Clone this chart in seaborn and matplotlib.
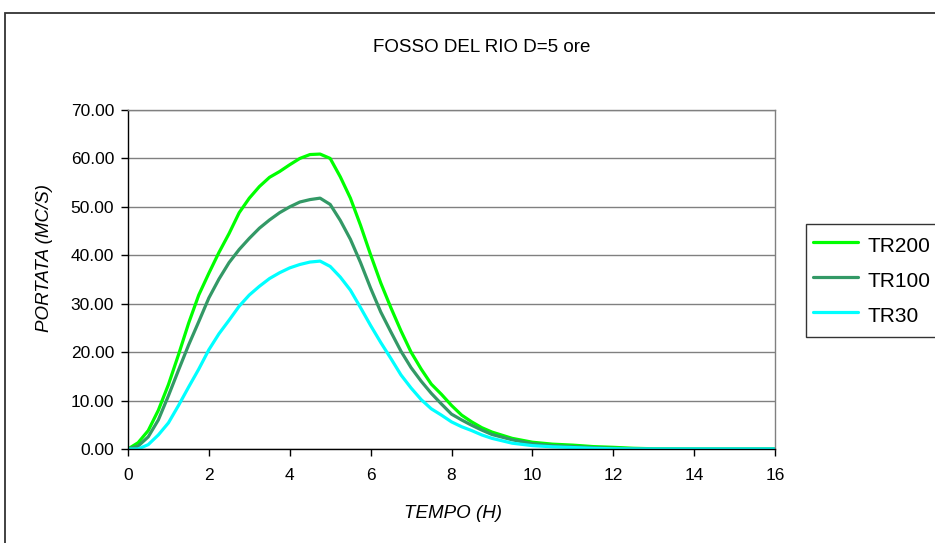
import numpy as np
import pandas as pd
import matplotlib
matplotlib.use('Agg')
import matplotlib.pyplot as plt
import seaborn as sns
from matplotlib.patches import Rectangle

# Dati (tempo in ore, portata in mc/s)
tempo = [0, 0.25, 0.5, 0.75, 1.0, 1.25, 1.5, 1.75, 2.0, 2.25, 2.5, 2.75,
         3.0, 3.25, 3.5, 3.75, 4.0, 4.25, 4.5, 4.75, 5.0, 5.25, 5.5, 5.75,
         6.0, 6.25, 6.5, 6.75, 7.0, 7.25, 7.5, 7.75, 8.0, 8.25, 8.5, 8.75,
         9.0, 9.5, 10, 10.5, 11, 11.5, 12, 12.5, 13, 14, 15, 16]

tr200 = [0, 1.3, 3.8, 8.0, 13.3, 19.5, 26.0, 31.8, 36.3, 40.6, 44.5, 48.8,
         51.8, 54.2, 56.1, 57.3, 58.7, 60.0, 60.8, 60.9, 60.0, 56.2, 51.8, 46.2,
         40.1, 34.3, 29.2, 24.4, 20.0, 16.5, 13.4, 11.3, 9.0, 7.0, 5.6, 4.4,
         3.5, 2.2, 1.4, 1.0, 0.8, 0.5, 0.35, 0.15, 0.05, 0, 0, 0]

tr100 = [0, 0.6, 2.5, 6.0, 11.0, 16.3, 21.5, 26.3, 31.2, 35.1, 38.5, 41.2,
         43.5, 45.6, 47.3, 48.8, 50.0, 51.0, 51.5, 51.8, 50.5, 47.2, 43.3, 38.5,
         33.2, 28.3, 24.2, 20.2, 16.8, 14.0, 11.5, 9.3, 7.2, 6.0, 4.9, 3.9,
         3.0, 1.9, 1.1, 0.7, 0.5, 0.3, 0.15, 0.05, 0, 0, 0, 0]

tr30 = [0, 0.0, 0.9, 2.9, 5.4, 9.0, 12.8, 16.5, 20.5, 23.8, 26.6, 29.5,
        31.8, 33.6, 35.2, 36.4, 37.4, 38.1, 38.6, 38.8, 37.7, 35.5, 32.8, 29.2,
        25.5, 22.0, 18.7, 15.3, 12.6, 10.2, 8.3, 7.0, 5.6, 4.6, 3.8, 2.9,
        2.2, 1.2, 0.7, 0.45, 0.3, 0.15, 0.05, 0, 0, 0, 0, 0]

serie = ['TR200', 'TR100', 'TR30']
colori = {'TR200': '#00FF00', 'TR100': '#339966', 'TR30': '#00FFFF'}

df = pd.DataFrame({'TEMPO': tempo, 'TR200': tr200, 'TR100': tr100, 'TR30': tr30})
df_long = df.melt(id_vars='TEMPO', value_vars=serie, var_name='serie', value_name='PORTATA')

sns.set_style('white')
plt.rcParams['font.family'] = ['Liberation Sans', 'DejaVu Sans']
plt.rcParams['text.color'] = 'black'
plt.rcParams['axes.labelcolor'] = 'black'
plt.rcParams['xtick.color'] = 'black'
plt.rcParams['ytick.color'] = 'black'

fig = plt.figure(figsize=(9.35, 5.43), dpi=100)
ax = fig.add_axes([128/935, 1-449/543, 647/935, 339/543])

sns.lineplot(data=df_long, x='TEMPO', y='PORTATA', hue='serie', hue_order=serie,
             palette=colori, linewidth=2.3, ax=ax, legend=False)

ax.set_xlim(0, 16)
ax.set_ylim(0, 70)
ax.set_xticks(np.arange(0, 17, 2))
ax.set_yticks(np.arange(0, 71, 10))
ax.set_yticklabels([f'{v:.2f}' for v in np.arange(0, 71, 10)])
ax.tick_params(axis='both', labelsize=12.5, direction='out', length=5, width=1,
               color='black', labelcolor='black', left=True, bottom=True, pad=5)
ax.tick_params(axis='x', pad=9)

# griglia orizzontale grigia
ax.grid(True, axis='y', color='#808080', linewidth=1)
ax.set_axisbelow(True)
for lato in ['top', 'right']:
    ax.spines[lato].set_color('#808080')
    ax.spines[lato].set_linewidth(1)
for lato in ['left', 'bottom']:
    ax.spines[lato].set_color('black')
    ax.spines[lato].set_linewidth(1)

ax.set_xlabel('TEMPO (H)', fontsize=13.5, fontstyle='italic', color='black')
ax.set_ylabel('PORTATA (MC/S)', fontsize=13.5, fontstyle='italic', color='black')
ax.xaxis.set_label_coords(0.502, -0.165)
ax.yaxis.set_label_coords(-0.116, 0.563)

fig.text(482/935, 1-48/543, 'FOSSO DEL RIO D=5 ore', fontsize=13.5,
         ha='center', va='center', color='black')

# legenda (tagliata a destra come nell'originale)
maniglie = [plt.Line2D([], [], color=colori[s], linewidth=2.3) for s in serie]
leg = fig.legend(maniglie, serie, loc='upper left',
                 bbox_to_anchor=(806/935, 1-224/543), borderaxespad=0,
                 fontsize=15, frameon=True, fancybox=False, handlelength=2.15,
                 handleheight=1.7, handletextpad=0.45, labelspacing=0.33,
                 borderpad=0.35)
leg.get_frame().set_edgecolor('black')
leg.get_frame().set_linewidth(1)
for t in leg.get_texts():
    t.set_color('black')

# cornice esterna del grafico
fig.patches.append(Rectangle((5/935, -0.1), 1.2, (543-13)/543 + 0.1,
                             transform=fig.transFigure, fill=False,
                             edgecolor='#333333', linewidth=1.3))

fig.savefig('out.png', dpi=100)
